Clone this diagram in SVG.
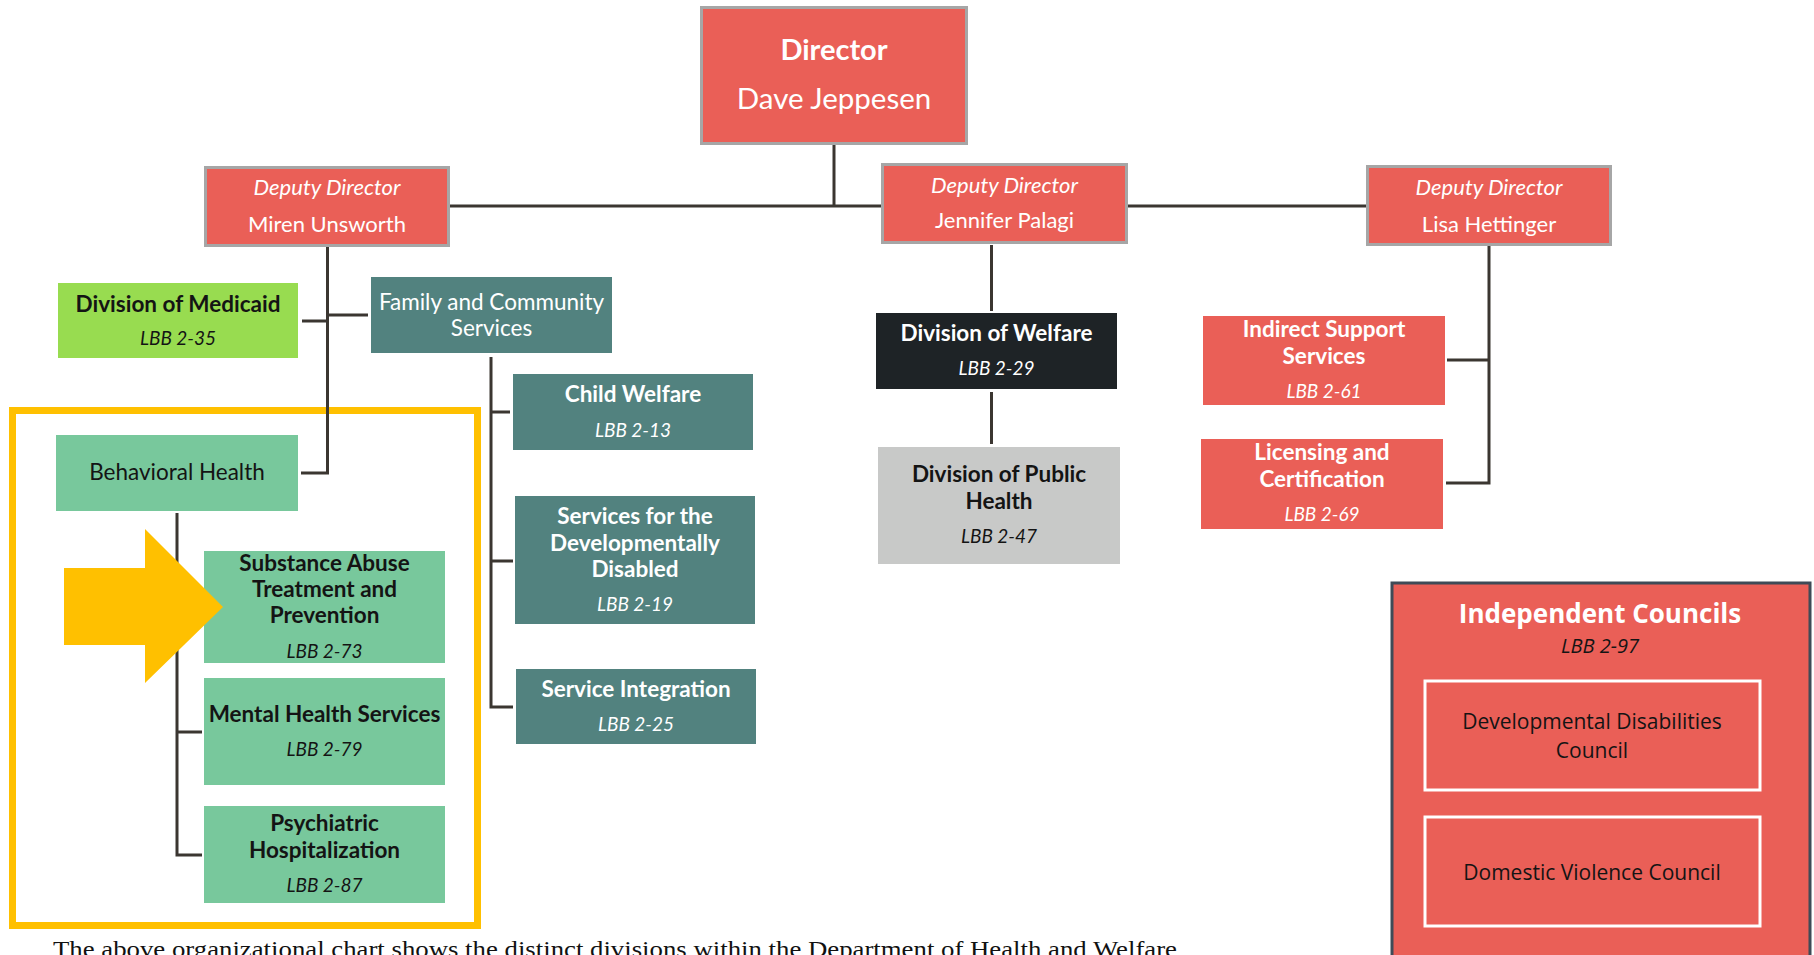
<svg xmlns="http://www.w3.org/2000/svg" width="1814" height="955" viewBox="0 0 1814 955">
<style>
text{font-family:Lato,"Open Sans","DejaVu Sans",sans-serif;text-anchor:middle}
.b{font-weight:bold;font-size:22.5px}
.r{font-size:22.5px}
.l{font-style:italic;font-size:19px}
.w{fill:#ffffff}
.k{fill:#141414}
.dep{font-style:italic;font-size:22px}
.red{fill:#EA5F57}
.teal{fill:#52827F}
.bh{fill:#78C89C}
.bd{stroke:#A6A6A6;stroke-width:3}
.ln{fill:none;stroke:#3B3631;stroke-width:3}
.os{font-family:"Open Sans","Noto Sans",sans-serif}
</style>
<rect width="1814" height="955" fill="#ffffff"/>
<rect x="12.5" y="410.5" width="465" height="515" fill="none" stroke="#FFC000" stroke-width="7"/>
<g id="connectors" class="ln">
<path d="M834 145V206"/>
<path d="M450 206H881M1128 206H1366"/>
<path d="M327.5 247V473H301"/>
<path d="M302 321H328M328 315H368"/>
<path d="M491 357V707H513M491 412H510M491 561H513"/>
<path d="M177 513V855H202M177 732H202"/>
<path d="M991.5 245V311M991.5 392V444"/>
<path d="M1489 245V483H1446M1447 360H1489"/>
</g>
<g id="director">
<rect class="red bd" x="701.5" y="7.5" width="265" height="136"/>
<text class="w" x="834" y="60" style="font-weight:bold;font-size:29px">Director</text>
<text class="w" x="834" y="109" style="font-size:29.5px">Dave Jeppesen</text>
</g>
<g id="deputy-unsworth">
<rect class="red bd" x="205.5" y="167.5" width="243" height="78"/>
<text class="w dep" x="327" y="195">Deputy Director</text>
<text class="w" x="327" y="232" style="font-size:22px">Miren Unsworth</text>
</g>
<g id="deputy-palagi">
<rect class="red bd" x="882.5" y="164.5" width="244" height="78"/>
<text class="w dep" x="1004.5" y="193">Deputy Director</text>
<text class="w" x="1004.5" y="228" style="font-size:22px">Jennifer Palagi</text>
</g>
<g id="deputy-hettinger">
<rect class="red bd" x="1367.5" y="166.5" width="243" height="78"/>
<text class="w dep" x="1489" y="195">Deputy Director</text>
<text class="w" x="1489" y="232" style="font-size:22px">Lisa Hettinger</text>
</g>
<g id="medicaid">
<rect x="58" y="283" width="240" height="75" fill="#98DC50"/>
<text class="b k" x="178" y="312">Division of Medicaid</text>
<text class="l k" x="178" y="345">LBB 2-35</text>
</g>
<g id="family-community">
<rect class="teal" x="371" y="277" width="241" height="76"/>
<text class="r w" x="491.5" y="310">Family and Community</text>
<text class="r w" x="491.5" y="336">Services</text>
</g>
<g id="child-welfare">
<rect class="teal" x="513" y="374" width="240" height="76"/>
<text class="b w" x="633" y="402">Child Welfare</text>
<text class="l w" x="633" y="437">LBB 2-13</text>
</g>
<g id="developmentally-disabled">
<rect class="teal" x="515" y="496" width="240" height="128"/>
<text class="b w" x="635" y="524">Services for the</text>
<text class="b w" x="635" y="551">Developmentally</text>
<text class="b w" x="635" y="577">Disabled</text>
<text class="l w" x="635" y="611">LBB 2-19</text>
</g>
<g id="service-integration">
<rect class="teal" x="516" y="669" width="240" height="75"/>
<text class="b w" x="636" y="697">Service Integration</text>
<text class="l w" x="636" y="731">LBB 2-25</text>
</g>
<g id="behavioral-health">
<rect class="bh" x="56" y="435" width="242" height="76"/>
<text class="r k" x="177" y="480">Behavioral Health</text>
</g>
<g id="substance-abuse">
<rect class="bh" x="204" y="551" width="241" height="112"/>
<text class="b k" x="324.5" y="571">Substance Abuse</text>
<text class="b k" x="324.5" y="597">Treatment and</text>
<text class="b k" x="324.5" y="623">Prevention</text>
<text class="l k" x="324.5" y="658">LBB 2-73</text>
</g>
<g id="mental-health">
<rect class="bh" x="204" y="678" width="241" height="107"/>
<text class="b k" x="324.5" y="722">Mental Health Services</text>
<text class="l k" x="324.5" y="756">LBB 2-79</text>
</g>
<g id="psychiatric">
<rect class="bh" x="204" y="806" width="241" height="97"/>
<text class="b k" x="324.5" y="831">Psychiatric</text>
<text class="b k" x="324.5" y="858">Hospitalization</text>
<text class="l k" x="324.5" y="892">LBB 2-87</text>
</g>
<g id="welfare">
<rect x="876" y="313" width="241" height="76" fill="#1E2326"/>
<text class="b w" x="996.5" y="341">Division of Welfare</text>
<text class="l w" x="996.5" y="375">LBB 2-29</text>
</g>
<g id="public-health">
<rect x="878" y="447" width="242" height="117" fill="#C8C9C8"/>
<text class="b k" x="999" y="482">Division of Public</text>
<text class="b k" x="999" y="509">Health</text>
<text class="l k" x="999" y="543">LBB 2-47</text>
</g>
<g id="indirect-support">
<rect class="red" x="1203" y="316" width="242" height="89"/>
<text class="b w" x="1324" y="337">Indirect Support</text>
<text class="b w" x="1324" y="364">Services</text>
<text class="l w" x="1324" y="398">LBB 2-61</text>
</g>
<g id="licensing">
<rect class="red" x="1201" y="439" width="242" height="90"/>
<text class="b w" x="1322" y="460">Licensing and</text>
<text class="b w" x="1322" y="487">Certification</text>
<text class="l w" x="1322" y="521">LBB 2-69</text>
</g>
<g id="independent-councils">
<rect class="red" x="1392" y="583" width="418" height="380" stroke="#3F4B57" stroke-width="3"/>
<text class="w os" x="1600" y="623" style="font-weight:bold;font-size:26px">Independent Councils</text>
<text class="k os" x="1600" y="653" style="font-style:italic;font-size:20px">LBB 2-97</text>
<g id="dd-council">
<rect x="1425" y="681" width="335" height="109" fill="none" stroke="#ffffff" stroke-width="3"/>
<text class="k os" x="1592" y="729" style="font-size:21px">Developmental Disabilities</text>
<text class="k os" x="1592" y="758" style="font-size:21px">Council</text>
</g>
<g id="dv-council">
<rect x="1425" y="817" width="335" height="109" fill="none" stroke="#ffffff" stroke-width="3"/>
<text class="k os" x="1592" y="880" style="font-size:21px">Domestic Violence Council</text>
</g>
</g>
<polygon id="highlight-arrow" points="64,568 145,568 145,529 223,607 145,683 145,645 64,645" fill="#FFC000"/>
<text x="53" y="957" textLength="1124" lengthAdjust="spacingAndGlyphs" style="font-family:'Liberation Serif',serif;font-size:24px;text-anchor:start;fill:#111">The above organizational chart shows the distinct divisions within the Department of Health and Welfare</text>
</svg>
